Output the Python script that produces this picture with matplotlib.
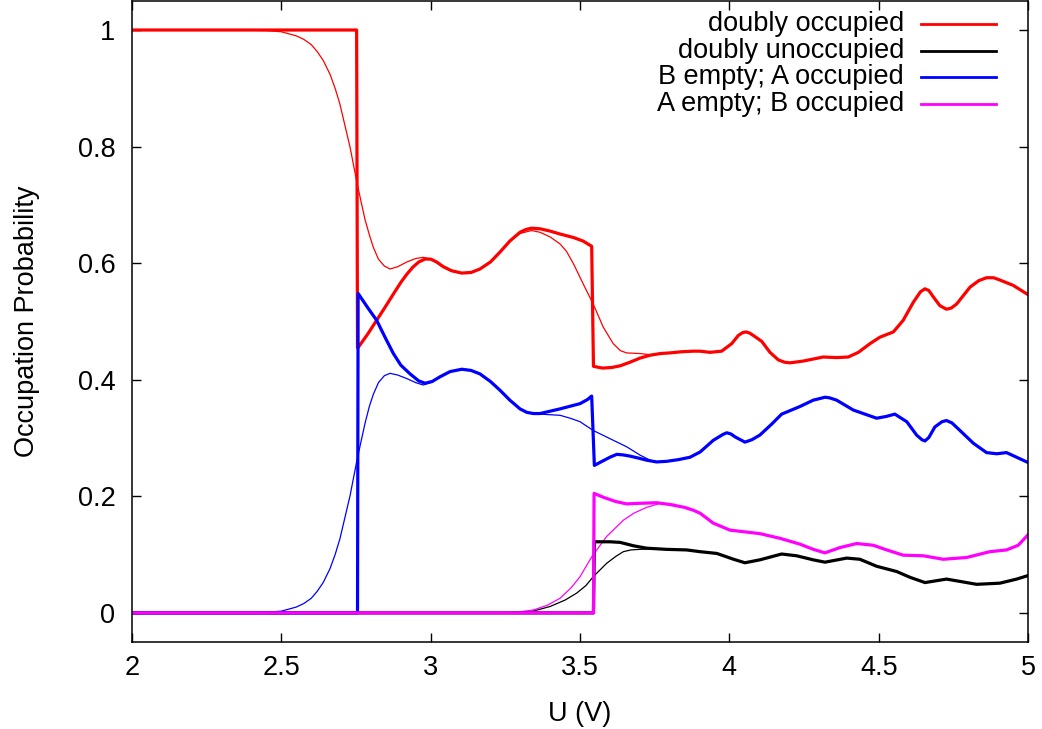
import numpy as np
import matplotlib.pyplot as plt

plt.rcParams['font.family'] = ['Liberation Sans', 'DejaVu Sans']

# occupation probabilities vs bias voltage, sharp (thick) and broadened (thin)
red_x = [2.0, 2.752, 2.755, 2.758, 2.79, 2.819, 2.848, 2.875, 2.90, 2.92, 2.94, 2.96, 2.981, 3.0,
         3.02, 3.042, 3.07, 3.104, 3.135, 3.165, 3.20, 3.232, 3.265, 3.299, 3.32, 3.338, 3.366,
         3.40, 3.433, 3.478, 3.51, 3.539, 3.545, 3.575, 3.606, 3.635, 3.667, 3.70, 3.734, 3.77,
         3.80, 3.84, 3.879, 3.902, 3.935, 3.974, 4.008, 4.030, 4.045, 4.056, 4.068, 4.080, 4.108,
         4.136, 4.164, 4.185, 4.203, 4.247, 4.314, 4.359, 4.398, 4.432, 4.471, 4.504, 4.549,
         4.582, 4.616, 4.640, 4.655, 4.668, 4.683, 4.705, 4.727, 4.743, 4.761, 4.806, 4.835,
         4.861, 4.885, 4.906, 4.950, 5.0]
red_y = [1.0, 1.0, 0.455, 0.456, 0.479, 0.502, 0.525, 0.547, 0.567, 0.581, 0.593, 0.602, 0.607,
         0.607, 0.602, 0.594, 0.587, 0.583, 0.584, 0.590, 0.602, 0.619, 0.638, 0.653, 0.658, 0.660,
         0.659, 0.655, 0.650, 0.644, 0.638, 0.629, 0.423, 0.420, 0.421, 0.424, 0.430, 0.437, 0.442,
         0.445, 0.446, 0.448, 0.449, 0.449, 0.447, 0.449, 0.462, 0.476, 0.481, 0.482, 0.480, 0.476,
         0.466, 0.447, 0.434, 0.430, 0.429, 0.432, 0.439, 0.438, 0.439, 0.447, 0.462, 0.473, 0.482,
         0.502, 0.533, 0.551, 0.556, 0.553, 0.542, 0.527, 0.521, 0.523, 0.530, 0.559, 0.570, 0.575,
         0.575, 0.571, 0.562, 0.546]

blue_x = [2.0, 2.755, 2.757, 2.79, 2.819, 2.85, 2.875, 2.90, 2.931, 2.96, 2.981, 3.005, 3.031,
          3.065, 3.104, 3.135, 3.165, 3.2, 3.232, 3.265, 3.299, 3.322, 3.344, 3.366, 3.433, 3.50,
          3.525, 3.539, 3.548, 3.57, 3.60, 3.623, 3.645, 3.667, 3.70, 3.723, 3.756, 3.79, 3.83,
          3.868, 3.902, 3.946, 3.978, 3.991, 4.005, 4.019, 4.052, 4.075, 4.102, 4.142, 4.175,
          4.236, 4.281, 4.305, 4.320, 4.335, 4.359, 4.415, 4.493, 4.525, 4.554, 4.594, 4.627,
          4.645, 4.655, 4.668, 4.688, 4.712, 4.727, 4.745, 4.772, 4.817, 4.861, 4.895, 4.928, 5.0]
blue_y = [0.0, 0.0, 0.548, 0.523, 0.502, 0.47, 0.445, 0.425, 0.410, 0.398, 0.394, 0.397, 0.405,
          0.414, 0.418, 0.416, 0.410, 0.397, 0.382, 0.365, 0.350, 0.344, 0.342, 0.342, 0.350, 0.359,
          0.366, 0.372, 0.253, 0.259, 0.267, 0.272, 0.271, 0.269, 0.265, 0.262, 0.259, 0.260, 0.263,
          0.267, 0.276, 0.296, 0.306, 0.309, 0.307, 0.302, 0.293, 0.297, 0.305, 0.324, 0.341, 0.354,
          0.365, 0.368, 0.370, 0.369, 0.365, 0.348, 0.334, 0.337, 0.341, 0.328, 0.305, 0.297, 0.295,
          0.301, 0.319, 0.328, 0.330, 0.326, 0.313, 0.291, 0.275, 0.273, 0.275, 0.258]

mag_x = [2.0, 3.545, 3.547, 3.58, 3.62, 3.656, 3.70, 3.756, 3.80, 3.85, 3.88, 3.902, 3.946, 4.002,
         4.102, 4.169, 4.236, 4.281, 4.320, 4.370, 4.426, 4.482, 4.527, 4.582, 4.649, 4.716,
         4.794, 4.872, 4.928, 4.967, 5.0]
mag_y = [0.0, 0.0, 0.205, 0.198, 0.191, 0.187, 0.188, 0.189, 0.186, 0.181, 0.176, 0.171, 0.154,
         0.142, 0.136, 0.128, 0.118, 0.109, 0.103, 0.112, 0.119, 0.116, 0.108, 0.099, 0.098, 0.092,
         0.095, 0.105, 0.108, 0.116, 0.134]

blk_x = [2.0, 3.545, 3.548, 3.6, 3.634, 3.68, 3.723, 3.79, 3.857, 3.902, 3.958, 4.014, 4.052,
         4.102, 4.175, 4.225, 4.281, 4.320, 4.393, 4.437, 4.493, 4.560, 4.605, 4.655, 4.727,
         4.772, 4.828, 4.906, 4.962, 5.0]
blk_y = [0.0, 0.0, 0.122, 0.122, 0.121, 0.115, 0.111, 0.109, 0.108, 0.105, 0.102, 0.092, 0.086,
         0.091, 0.101, 0.098, 0.091, 0.087, 0.094, 0.092, 0.080, 0.071, 0.061, 0.052, 0.058, 0.054,
         0.049, 0.051, 0.058, 0.064]

# broadened curves (only where they differ from the sharp ones)
red_thin_x = [2.0, 2.3, 2.4, 2.45, 2.5, 2.55, 2.575, 2.6, 2.62, 2.64, 2.663, 2.68, 2.696, 2.713,
              2.73, 2.752, 2.765, 2.78, 2.795, 2.808, 2.825, 2.845, 2.864, 2.89, 2.92, 2.95, 2.975,
              3.0, 3.02, 3.042, 3.07, 3.104, 3.135, 3.165, 3.2, 3.232, 3.265, 3.299, 3.338, 3.366,
              3.4, 3.433, 3.455, 3.478, 3.511, 3.544, 3.578, 3.611, 3.635, 3.656, 3.70, 3.734, 3.8]
red_thin_y = [1.0, 1.0, 0.9995, 0.999, 0.997, 0.99, 0.984, 0.975, 0.963, 0.948, 0.924, 0.90,
              0.873, 0.836, 0.799, 0.741, 0.71, 0.675, 0.648, 0.627, 0.607, 0.595, 0.590, 0.594,
              0.602, 0.608, 0.610, 0.607, 0.601, 0.593, 0.586, 0.583, 0.585, 0.590, 0.602, 0.619,
              0.637, 0.651, 0.656, 0.653, 0.645, 0.633, 0.62, 0.599, 0.564, 0.530, 0.490, 0.462,
              0.450, 0.446, 0.445, 0.443, 0.446]

blue_thin_x = [2.0, 2.3, 2.4, 2.45, 2.5, 2.55, 2.575, 2.6, 2.62, 2.64, 2.663, 2.68, 2.696, 2.713,
               2.73, 2.752, 2.765, 2.78, 2.795, 2.808, 2.825, 2.845, 2.864, 2.89, 2.92, 2.95, 2.975,
               3.005, 3.031, 3.065, 3.104, 3.135, 3.165, 3.2, 3.232, 3.265, 3.299, 3.322, 3.344,
               3.366, 3.40, 3.433, 3.467, 3.50, 3.544, 3.60, 3.656, 3.70, 3.734, 3.756, 3.79]
blue_thin_y = [0.0, 0.0, 0.0005, 0.001, 0.003, 0.01, 0.016, 0.025, 0.037, 0.052, 0.076, 0.10,
               0.127, 0.164, 0.201, 0.259, 0.29, 0.325, 0.355, 0.375, 0.395, 0.407, 0.411, 0.408,
               0.402, 0.395, 0.391, 0.396, 0.405, 0.414, 0.418, 0.416, 0.410, 0.397, 0.382, 0.365,
               0.350, 0.344, 0.342, 0.341, 0.340, 0.339, 0.334, 0.328, 0.313, 0.299, 0.285, 0.271,
               0.262, 0.259, 0.260]

mag_thin_x = [2.0, 3.25, 3.30, 3.344, 3.39, 3.433, 3.47, 3.50, 3.539, 3.589, 3.645, 3.68, 3.723,
              3.768, 3.82]
mag_thin_y = [0.0, 0.0, 0.002, 0.005, 0.013, 0.025, 0.043, 0.062, 0.096, 0.131, 0.159, 0.171,
              0.181, 0.188, 0.186]

blk_thin_x = [2.0, 3.30, 3.35, 3.40, 3.45, 3.489, 3.52, 3.544, 3.589, 3.62, 3.645, 3.67, 3.70,
              3.756, 3.79]
blk_thin_y = [0.0, 0.0, 0.004, 0.011, 0.022, 0.034, 0.047, 0.062, 0.085, 0.097, 0.105, 0.108,
              0.109, 0.110, 0.109]

labels = ['doubly occupied', 'doubly unoccupied', 'B empty; A occupied', 'A empty; B occupied']
colors = ['#ff0000', '#000000', '#0000ff', '#ff00ff']
fs = 19.5

fig = plt.figure(figsize=(10.42, 7.29), dpi=100)
ax = fig.add_axes([0.1267, 0.1193, 0.8599, 0.8795])

thick = 2.3
thin = 0.9
style = dict(solid_joinstyle='round', solid_capstyle='round')
ax.plot(red_thin_x, red_thin_y, color=colors[0], lw=thin, **style)
ax.plot(blk_thin_x, blk_thin_y, color=colors[1], lw=thin, **style)
ax.plot(blue_thin_x, blue_thin_y, color=colors[2], lw=thin, **style)
ax.plot(mag_thin_x, mag_thin_y, color=colors[3], lw=thin, **style)

ax.plot(red_x, red_y, color=colors[0], lw=thick, **style)
ax.plot(blk_x, blk_y, color=colors[1], lw=thick, **style)
ax.plot(blue_x, blue_y, color=colors[2], lw=thick, **style)
ax.plot(mag_x, mag_y, color=colors[3], lw=thick, **style)

ax.set_xlim(2, 5)
ax.set_ylim(-0.05, 1.05)
ax.set_xticks([2, 2.5, 3, 3.5, 4, 4.5, 5])
ax.set_xticklabels(['2', '2.5', '3', '3.5', '4', '4.5', '5'])
ax.set_yticks([0, 0.2, 0.4, 0.6, 0.8, 1])
ax.set_yticklabels(['0', '0.2', '0.4', '0.6', '0.8', '1'])
ax.tick_params(direction='in', length=6.5, width=1, top=True, right=True, labelsize=fs)
ax.tick_params(axis='y', pad=12)
ax.tick_params(axis='x', pad=9)
for sp in ax.spines.values():
    sp.set_linewidth(1.1)

ax.set_xlabel('U (V)', fontsize=fs, labelpad=15)
ax.set_ylabel('Occupation Probability', fontsize=fs, labelpad=27)

# key in the top right corner: right-aligned text, sample line after it
rows = [0.9646, 0.9221, 0.8805, 0.8385]
for lab, c, yr in zip(labels, colors, rows):
    ax.text(0.8616, yr, lab, transform=ax.transAxes, ha='right', va='center', fontsize=fs)
    ax.plot([0.881, 0.9638], [yr, yr], transform=ax.transAxes, color=c, lw=2.0)

fig.savefig('out.png', dpi=100)
